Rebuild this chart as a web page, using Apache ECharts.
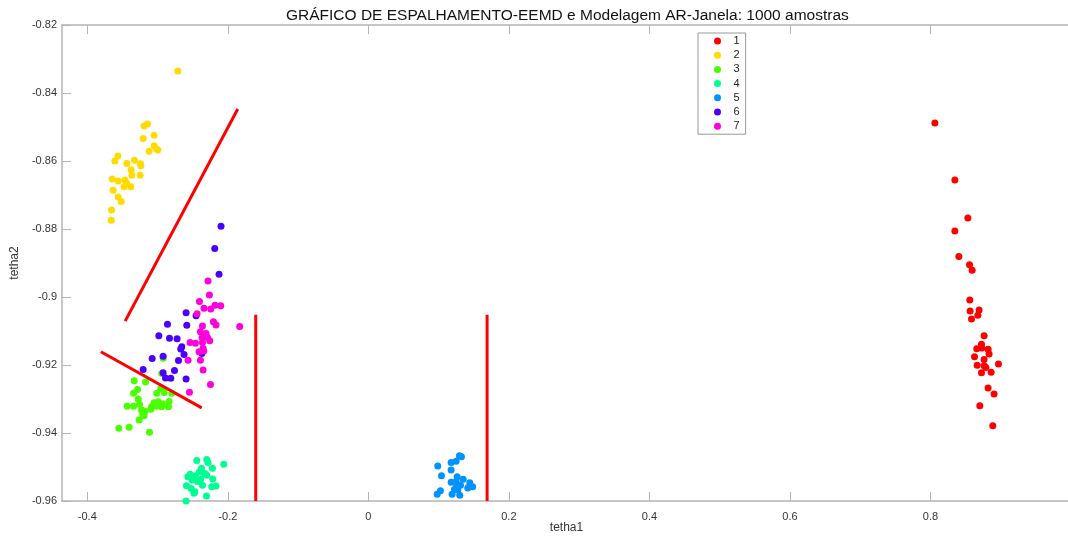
<!DOCTYPE html>
<html>
<head>
<meta charset="utf-8">
<title>EEMD scatter</title>
<script src="https://cdn.jsdelivr.net/npm/echarts@6/dist/echarts.min.js"></script>
<style>
  html, body { margin: 0; padding: 0; background: #fff; }
  #chart { width: 1068px; height: 538px; }
</style>
</head>
<body>
<div id="chart"></div>
<script>
// Cluster labels shown in the legend
const clusterNames = ['1', '2', '3', '4', '5', '6', '7'];
const clusterColors = ['#ff0000', '#ffdb00', '#49ff00', '#00ff92', '#0092ff', '#4900ff', '#ff00db'];

// (tetha1, tetha2) pairs per cluster
const cluster1 = [
  [0.8063,-0.8488],[0.8347,-0.8656],[0.8532,-0.8768],[0.8347,-0.8806],
  [0.8404,-0.8881],[0.8556,-0.8905],[0.8593,-0.8921],[0.8560,-0.9009],[0.8564,-0.9041],
  [0.8692,-0.9038],[0.8674,-0.9054],[0.8584,-0.9065],[0.8763,-0.9114],[0.8726,-0.9139],
  [0.8659,-0.9152],[0.8731,-0.9150],[0.8820,-0.9154],[0.8834,-0.9168],[0.8627,-0.9176],
  [0.8763,-0.9184],[0.8664,-0.9201],[0.8763,-0.9202],[0.8788,-0.9207],[0.8968,-0.9197],
  [0.8726,-0.9223],[0.8863,-0.9221],[0.8820,-0.9268],[0.8905,-0.9285],[0.8702,-0.9320],
  [0.8887,-0.9379]
];
const cluster2 = [
  [-0.2712,-0.8335],[-0.3191,-0.8497],[-0.3144,-0.8491],[-0.3049,-0.8524],[-0.3205,-0.8534],
  [-0.3049,-0.8555],[-0.3015,-0.8565],[-0.3120,-0.8571],[-0.2996,-0.8568],[-0.3565,-0.8585],
  [-0.3608,-0.8600],[-0.3437,-0.8607],[-0.3328,-0.8598],[-0.3243,-0.8608],[-0.3238,-0.8614],
  [-0.3376,-0.8626],[-0.3366,-0.8642],[-0.3248,-0.8642],[-0.3646,-0.8653],[-0.3561,-0.8659],
  [-0.3466,-0.8656],[-0.3437,-0.8666],[-0.3475,-0.8676],[-0.3380,-0.8676],[-0.3632,-0.8686],
  [-0.3561,-0.8706],[-0.3518,-0.8719],[-0.3655,-0.8744],[-0.3660,-0.8774]
];
const cluster3 = [
  [-0.3333,-0.9246],[-0.3171,-0.9250],[-0.3285,-0.9272],[-0.3342,-0.9283],[-0.2954,-0.9269],
  [-0.3011,-0.9283],[-0.2907,-0.9281],[-0.3276,-0.9300],[-0.3433,-0.9321],[-0.3342,-0.9321],
  [-0.3257,-0.9316],[-0.3049,-0.9311],[-0.2992,-0.9308],[-0.2930,-0.9314],[-0.2836,-0.9307],
  [-0.3086,-0.9323],[-0.3021,-0.9321],[-0.2944,-0.9323],[-0.2845,-0.9323],[-0.3228,-0.9332],
  [-0.3181,-0.9335],[-0.3096,-0.9330],[-0.3210,-0.9345],[-0.3191,-0.9349],[-0.3262,-0.9362],
  [-0.3551,-0.9386],[-0.3404,-0.9383],[-0.3115,-0.9398],[-0.2797,-0.9283],[-0.2920,-0.9180],
  [-0.2940,-0.9225]
];
const cluster4 = [
  [-0.2442,-0.9481],[-0.2300,-0.9478],[-0.2282,-0.9487],[-0.2058,-0.9492],[-0.2375,-0.9504],
  [-0.2219,-0.9504],[-0.2404,-0.9514],[-0.2324,-0.9519],[-0.2537,-0.9521],[-0.2461,-0.9526],
  [-0.2300,-0.9524],[-0.2570,-0.9529],[-0.2385,-0.9535],[-0.2215,-0.9535],[-0.2509,-0.9538],
  [-0.2432,-0.9543],[-0.2361,-0.9554],[-0.2588,-0.9555],[-0.2229,-0.9558],[-0.2523,-0.9563],
  [-0.2481,-0.9577],[-0.2304,-0.9585],[-0.2168,-0.9556],[-0.2594,-0.9600],[-0.2469,-0.9573]
];
const cluster5 = [
  [0.1296,-0.9467],[0.1325,-0.9470],[0.1178,-0.9487],[0.1249,-0.9483],[0.0988,-0.9497],
  [0.1178,-0.9509],[0.1041,-0.9526],[0.1264,-0.9529],[0.1349,-0.9536],[0.1178,-0.9545],
  [0.1249,-0.9543],[0.1443,-0.9546],[0.1311,-0.9554],[0.1485,-0.9558],[0.1414,-0.9562],
  [0.1225,-0.9566],[0.1026,-0.9570],[0.1272,-0.9568],[0.0979,-0.9580],[0.1192,-0.9580],
  [0.1301,-0.9583],[0.1254,-0.9558]
];
const cluster6 = [
  [-0.2097,-0.8792],[-0.2186,-0.8857],[-0.2125,-0.8933],[-0.2594,-0.9046],[-0.2452,-0.9055],
  [-0.2859,-0.9080],[-0.2584,-0.9083],[-0.2982,-0.9114],[-0.2830,-0.9121],[-0.2722,-0.9123],
  [-0.2655,-0.9146],[-0.2670,-0.9153],[-0.2623,-0.9169],[-0.2921,-0.9174],[-0.3077,-0.9181],
  [-0.2702,-0.9187],[-0.3205,-0.9213],[-0.2759,-0.9216],[-0.2921,-0.9223],[-0.2887,-0.9238],
  [-0.2812,-0.9239],[-0.2594,-0.9241],[-0.2370,-0.9166]
];
const cluster7 = [
  [-0.2282,-0.8953],[-0.2262,-0.8994],[-0.2404,-0.9013],[-0.2339,-0.9033],[-0.2243,-0.9035],
  [-0.2182,-0.9024],[-0.2101,-0.9026],[-0.2438,-0.9049],[-0.2205,-0.9073],[-0.2168,-0.9082],
  [-0.1831,-0.9087],[-0.2361,-0.9085],[-0.2390,-0.9102],[-0.2310,-0.9107],[-0.2290,-0.9119],
  [-0.2366,-0.9119],[-0.2537,-0.9134],[-0.2461,-0.9136],[-0.2361,-0.9134],[-0.2257,-0.9129],
  [-0.2352,-0.9151],[-0.2409,-0.9161],[-0.2343,-0.9159],[-0.2566,-0.9186],[-0.2390,-0.9186],
  [-0.2352,-0.9215],[-0.2247,-0.9257],[-0.2546,-0.9280]
];

// Decision boundaries separating the clusters
const boundaryA = [[-0.3461,-0.9071],[-0.1859,-0.8447]];
const boundaryB = [[-0.3807,-0.9161],[-0.2371,-0.9326]];
const boundaryC = [[-0.1603,-0.9052],[-0.1603,-0.9600]];
const boundaryD = [[0.1690,-0.9052],[0.1690,-0.9600]];

// Axis ranges and ticks
const xRange = [-0.436, 1.0];
const xTicks = [-0.4, -0.2, 0, 0.2, 0.4, 0.6, 0.8, 1.0];
const yRange = [-0.96, -0.82];
const yStep = 0.02;

const clusters = [cluster1, cluster2, cluster3, cluster4, cluster5, cluster6, cluster7];
const boundaries = [boundaryA, boundaryB, boundaryC, boundaryD];

const axisGray = '#b4b4b4';
const textColor = '#333';
const font = 'Liberation Sans, Helvetica, Arial, sans-serif';

const chart = echarts.init(document.getElementById('chart'), null, { renderer: 'canvas' });

const series = clusters.map((pts, i) => ({
  name: clusterNames[i],
  type: 'scatter',
  data: pts,
  symbol: 'circle',
  symbolSize: 7,
  itemStyle: { color: clusterColors[i], opacity: 1 },
  emphasis: { disabled: true },
  animation: false
}));

boundaries.forEach(seg => {
  series.push({
    type: 'line',
    data: seg,
    symbol: 'none',
    lineStyle: { color: '#ff0000', width: 3 },
    emphasis: { disabled: true },
    animation: false
  });
});

const xCommon = {
  type: 'value',
  min: xRange[0],
  max: xRange[1],
  splitLine: { show: false },
  axisLine: { show: true, onZero: false, lineStyle: { color: axisGray, width: 1.5 } },
  axisTick: { show: true, inside: true, length: 9, customValues: xTicks, lineStyle: { color: axisGray } }
};

chart.setOption({
  animation: false,
  backgroundColor: '#ffffff',
  title: {
    text: 'GRÁFICO DE ESPALHAMENTO-EEMD e Modelagem AR-Janela: 1000 amostras',
    left: 281,
    top: 3,
    textStyle: { fontFamily: font, fontSize: 15.5, fontWeight: 'normal', color: '#111' }
  },
  legend: {
    data: clusterNames,
    orient: 'vertical',
    left: 698,
    top: 33,
    padding: [1, 6, 1, 16],
    itemGap: 0.2,
    itemWidth: 22,
    itemHeight: 7,
    icon: 'circle',
    borderColor: '#999',
    borderWidth: 1,
    textStyle: { fontFamily: font, fontSize: 11, lineHeight: 14, color: '#222' }
  },
  grid: { left: 62, top: 25, right: -3, bottom: 37, containLabel: false, outerBoundsMode: 'none' },
  xAxis: [
    Object.assign({}, xCommon, {
      position: 'bottom',
      name: 'tetha1',
      nameLocation: 'middle',
      nameGap: 21,
      nameMoveOverlap: false,
      nameTextStyle: { fontFamily: font, fontSize: 12, color: textColor },
      axisLabel: {
        show: true, margin: 10, customValues: xTicks.slice(0, 7),
        fontFamily: font, fontSize: 11, color: textColor
      }
    }),
    Object.assign({}, xCommon, {
      position: 'top',
      axisLabel: { show: false }
    })
  ],
  yAxis: {
    type: 'value',
    min: yRange[0],
    max: yRange[1],
    interval: yStep,
    name: 'tetha2',
    nameLocation: 'middle',
    nameGap: 40,
    nameTextStyle: { fontFamily: font, fontSize: 12, color: textColor },
    splitLine: { show: false },
    axisLine: { show: true, onZero: false, lineStyle: { color: axisGray, width: 1.5 } },
    axisTick: { show: true, inside: true, length: 9, lineStyle: { color: axisGray } },
    axisLabel: { margin: 5, fontFamily: font, fontSize: 11, color: textColor }
  },
  series: series
});
</script>
</body>
</html>
